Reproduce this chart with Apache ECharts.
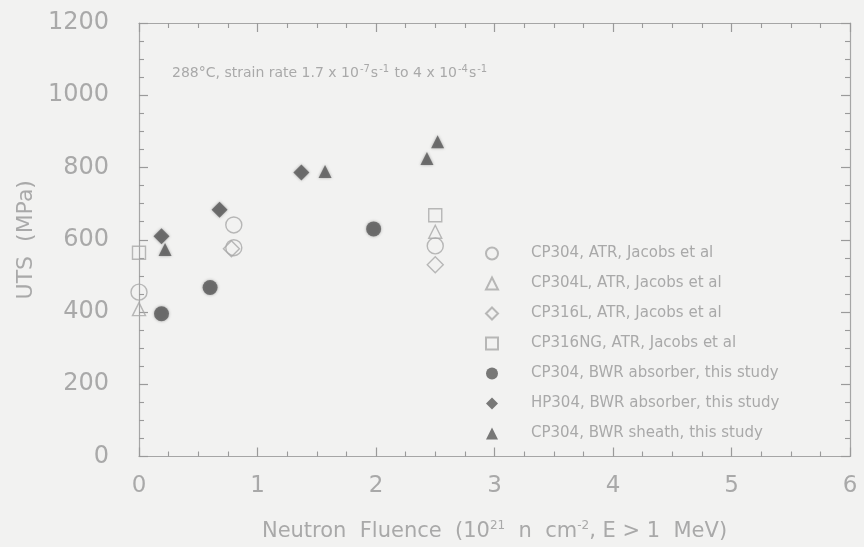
<!DOCTYPE html>
<html>
<head>
<meta charset="utf-8">
<script src="https://cdn.jsdelivr.net/npm/echarts@6/dist/echarts.min.js"></script>
<style>
html,body{margin:0;padding:0;background:#f2f2f1;}
#chart{width:864px;height:547px;}
</style>
</head>
<body>
<div id="chart"></div>
<script>
// Data: [fluence (1e21 n/cm2), UTS (MPa)]
const cp304Atr = [[0, 455], [0.80, 641], [0.80, 578], [2.50, 583]];
const cp304lAtr = [[0, 408], [2.50, 622]];
const cp316lAtr = [[0.78, 575], [2.50, 531]];
const cp316ngAtr = [[0, 564], [2.50, 668]];
const cp304BwrAbsorber = [[0.19, 395], [0.60, 468], [1.98, 630]];
const hp304BwrAbsorber = [[0.19, 610], [0.68, 683], [1.37, 786]];
const cp304BwrSheath = [[0.22, 573], [1.57, 789], [2.43, 825], [2.52, 871]];

const seriesNames = [
  'CP304, ATR, Jacobs et al',
  'CP304L, ATR, Jacobs et al',
  'CP316L, ATR, Jacobs et al',
  'CP316NG, ATR, Jacobs et al',
  'CP304, BWR absorber, this study',
  'HP304, BWR absorber, this study',
  'CP304, BWR sheath, this study'
];
const xTicks = [0, 1, 2, 3, 4, 5, 6];
const yTicks = [0, 200, 400, 600, 800, 1000, 1200];

const txt = '#a9a9a9';
const axisCol = '#a6a6a6';
const tickCol = '#9a9a9a';
const openCol = '#a8a8a8';
const fillCol = '#595959';
const font = 'DejaVu Sans';

function openSeries(name, data, symbol, size) {
  return {
    name, type: 'scatter', data, symbol, symbolSize: size,
    itemStyle: { color: 'rgba(0,0,0,0)', borderColor: openCol, borderWidth: 1.4 },
    emphasis: { disabled: true }
  };
}
function filledSeries(name, data, symbol, size) {
  return {
    name, type: 'scatter', data, symbol, symbolSize: size,
    itemStyle: { color: fillCol, shadowBlur: 3, shadowColor: 'rgba(60,60,60,0.5)' },
    emphasis: { disabled: true }
  };
}
const axisLine = () => ({ show: true, onZero: false, lineStyle: { color: axisCol, width: 1.2 } });
const tick = () => ({ show: true, inside: true, length: 9, lineStyle: { color: tickCol, width: 1.2 } });
const minor = () => ({ show: true, splitNumber: 4, length: 5, lineStyle: { color: tickCol, width: 1.1 } });

const chart = echarts.init(document.getElementById('chart'), null, { renderer: 'canvas' });
chart.setOption({
  backgroundColor: '#f2f2f1',
  animation: false,
  grid: { left: 139, right: 14, top: 23, bottom: 86 },
  xAxis: [{
    type: 'value', position: 'bottom', min: xTicks[0], max: xTicks[xTicks.length - 1], interval: 1,
    axisLine: axisLine(), axisTick: tick(), minorTick: minor(),
    splitLine: { show: false },
    axisLabel: { color: txt, fontFamily: font, fontSize: 23, margin: 18 },
    name: 'Neutron  Fluence  (10{s|21}  n  cm{s|-2}, E > 1  MeV)',
    nameLocation: 'middle', nameGap: 63,
    nameTextStyle: {
      color: txt, fontFamily: font, fontSize: 21,
      rich: { s: { fontSize: 12, color: txt, fontFamily: font, verticalAlign: 'top', padding: [0, 0, 12, 0] } }
    }
  }, {
    type: 'value', position: 'top', min: xTicks[0], max: xTicks[xTicks.length - 1], interval: 1,
    axisLine: axisLine(), axisTick: tick(), minorTick: minor(),
    splitLine: { show: false }, axisLabel: { show: false }
  }],
  yAxis: [{
    type: 'value', position: 'left', min: yTicks[0], max: yTicks[yTicks.length - 1], interval: 200,
    axisLine: axisLine(), axisTick: tick(), minorTick: minor(),
    splitLine: { show: false },
    axisLabel: { color: txt, fontFamily: font, fontSize: 24, margin: 30, formatter: v => String(v) },
    name: 'UTS  (MPa)', nameLocation: 'middle', nameGap: 96, nameRotate: 90,
    nameTextStyle: { color: txt, fontFamily: font, fontSize: 22 }
  }, {
    type: 'value', position: 'right', min: yTicks[0], max: yTicks[yTicks.length - 1], interval: 200,
    axisLine: axisLine(), axisTick: tick(), minorTick: minor(),
    splitLine: { show: false }, axisLabel: { show: false }
  }],
  legend: {
    orient: 'vertical', left: 480, top: 241,
    itemWidth: 12, itemHeight: 12, itemGap: 15,
    data: seriesNames,
    textStyle: { color: txt, fontFamily: font, fontSize: 15, padding: [0, 0, 0, 28] },
    selectedMode: false
  },
  graphic: [{
    type: 'text', left: 172, top: 64,
    style: {
      text: '288°C, strain rate 1.7 x 10{s|-7}s{s|-1} to 4 x 10{s|-4}s{s|-1}',
      fill: txt, font: '14px "DejaVu Sans"',
      rich: { s: { fontSize: 10, fill: txt, fontFamily: font, verticalAlign: 'top', padding: [0, 1, 8, 1] } }
    }
  }],
  series: [
    openSeries(seriesNames[0], cp304Atr, 'circle', 16),
    openSeries(seriesNames[1], cp304lAtr, 'triangle', 13),
    openSeries(seriesNames[2], cp316lAtr, 'diamond', 16),
    openSeries(seriesNames[3], cp316ngAtr, 'rect', 13),
    filledSeries(seriesNames[4], cp304BwrAbsorber, 'circle', 15),
    filledSeries(seriesNames[5], hp304BwrAbsorber, 'diamond', 16),
    filledSeries(seriesNames[6], cp304BwrSheath, 'triangle', 13)
  ]
});
</script>
</body>
</html>
